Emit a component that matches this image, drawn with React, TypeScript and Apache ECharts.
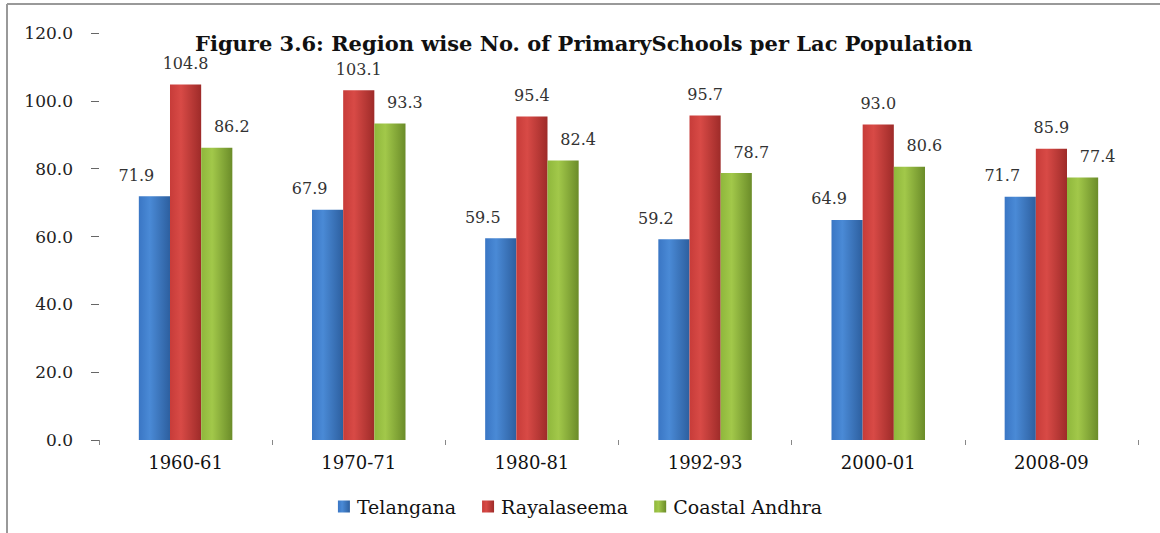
import React, { useEffect, useRef } from "react";
import * as echarts from "echarts";

const categories = ["1960-61", "1970-71", "1980-81", "1992-93", "2000-01", "2008-09"];
const telangana = [71.9, 67.9, 59.5, 59.2, 64.9, 71.7];
const rayalaseema = [104.8, 103.1, 95.4, 95.7, 93.0, 85.9];
const coastalAndhra = [86.2, 93.3, 82.4, 78.7, 80.6, 77.4];
const seriesNames = ["Telangana", "Rayalaseema", "Coastal Andhra"];
const titleText = "Figure 3.6: Region wise No. of PrimarySchools per Lac Population";

const FONT = "'DejaVu Serif', 'Liberation Serif', serif";

function grad(light: string, mid: string, dark: string) {
  return {
    type: "linear",
    x: 0,
    y: 0,
    x2: 1,
    y2: 0,
    colorStops: [
      { offset: 0, color: mid },
      { offset: 0.35, color: light },
      { offset: 1, color: dark },
    ],
  };
}

export default function App() {
  const ref = useRef<HTMLDivElement>(null);
  useEffect(() => {
    if (!ref.current) return;
    const chart = echarts.init(ref.current, undefined, { renderer: "svg" });
    const label = (dx: number) => ({
      show: true,
      position: "top",
      distance: 13,
      offset: [dx, 0],
      fontFamily: FONT,
      fontSize: 16,
      color: "#333",
      formatter: (p: any) => Number(p.value).toFixed(1),
    });
    chart.setOption({
      animation: false,
      backgroundColor: "#fff",
      title: {
        text: titleText,
        left: 190,
        top: 28,
        textStyle: { fontFamily: FONT, fontSize: 21, fontWeight: "bold", color: "#111" },
      },
      legend: {
        data: seriesNames,
        left: "center",
        top: 492,
        icon: "rect",
        itemWidth: 12,
        itemHeight: 12,
        itemGap: 26,
        textStyle: { fontFamily: FONT, fontSize: 19, color: "#111", padding: [0, 0, 0, 2] },
      },
      grid: { left: 99, right: 22, top: 33, bottom: 93 },
      xAxis: {
        type: "category",
        data: categories,
        axisLine: { show: false },
        axisTick: { show: true, length: 5, lineStyle: { color: "#888" } },
        axisLabel: { fontFamily: FONT, fontSize: 18, color: "#111", margin: 13 },
      },
      yAxis: {
        type: "value",
        min: 0,
        max: 120,
        interval: 20,
        splitLine: { show: false },
        axisLine: { show: false },
        axisTick: { show: true, length: 8, lineStyle: { color: "#666" } },
        axisLabel: {
          fontFamily: FONT,
          fontSize: 17,
          color: "#222",
          margin: 26,
          formatter: (v: number) => v.toFixed(1),
        },
      },
      series: [
        {
          name: seriesNames[0],
          type: "bar",
          data: telangana,
          barGap: "0%",
          barCategoryGap: "46%",
          itemStyle: { color: grad("#4a8ad6", "#3a76c4", "#2d5f9f") },
          label: label(-18),
        },
        {
          name: seriesNames[1],
          type: "bar",
          data: rayalaseema,
          itemStyle: { color: grad("#d84a46", "#c73c39", "#9e2b29") },
          label: label(0),
        },
        {
          name: seriesNames[2],
          type: "bar",
          data: coastalAndhra,
          itemStyle: { color: grad("#a2c84a", "#8fb73c", "#6b8c29") },
          label: label(15),
        },
      ],
      graphic: [
        { type: "line", shape: { x1: 7, y1: 4, x2: 1160, y2: 4 }, style: { stroke: "#999", lineWidth: 2 } },
        { type: "line", shape: { x1: 7, y1: 4, x2: 7, y2: 533 }, style: { stroke: "#999", lineWidth: 2 } },
      ],
    });
    return () => chart.dispose();
  }, []);
  return (
    <div
      ref={ref}
      style={{ position: "absolute", left: 0, top: 0, width: 1160, height: 533 }}
    />
  );
}
